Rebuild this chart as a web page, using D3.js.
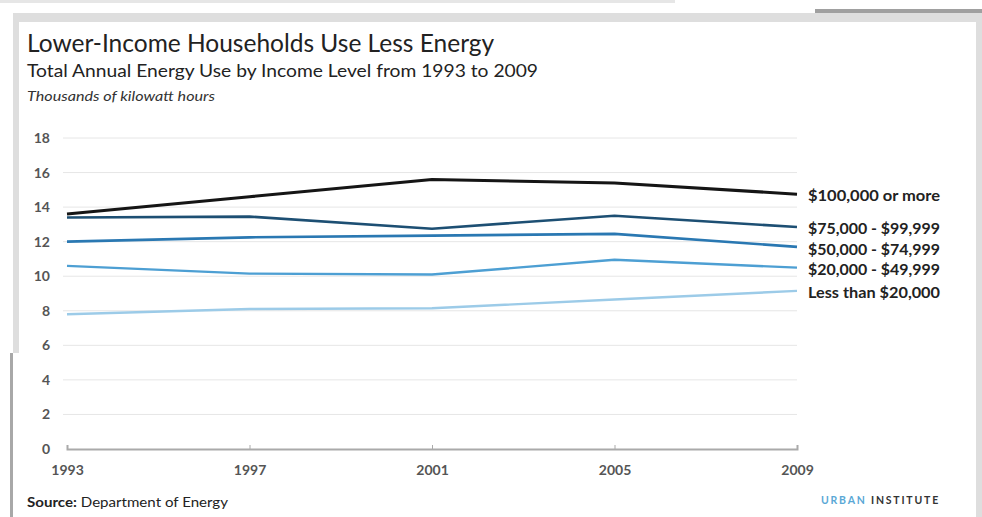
<!DOCTYPE html>
<html>
<head>
<meta charset="utf-8">
<script src="https://cdn.jsdelivr.net/npm/d3@7"></script>
<style>
  body { margin: 0; background: #fff; }
  svg { display: block; font-family: Lato, "Open Sans", sans-serif; }
</style>
</head>
<body>
<svg id="chart"></svg>
<script>
// Chart size
const width = 982;
const height = 517;

// Data
const years = [1993, 1997, 2001, 2005, 2009];
const groups = ["$100,000 or more", "$75,000 - $99,999", "$50,000 - $74,999", "$20,000 - $49,999", "Less than $20,000"];
const over100k = [13.6, 14.6, 15.6, 15.4, 14.75];
const from75k = [13.4, 13.45, 12.75, 13.5, 12.85];
const from50k = [12.0, 12.25, 12.35, 12.45, 11.7];
const from20k = [10.6, 10.15, 10.1, 10.95, 10.5];
const under20k = [7.8, 8.1, 8.15, 8.65, 9.15];
const yTicks = [0, 2, 4, 6, 8, 10, 12, 14, 16, 18];

const seriesValues = [over100k, from75k, from50k, from20k, under20k];
const COLORS = ["#151515", "#1d4f73", "#2a78b2", "#4d9fd3", "#9ccbe8"];
const WIDTHS = [3, 2.6, 2.6, 2.4, 2.4];
const labelY = [195, 228, 249, 269, 292];

const svg = d3.select("#chart")
  .attr("width", width)
  .attr("height", height);

// Gray frame around the card
svg.append("rect").attr("x", 0).attr("y", 0).attr("width", 675).attr("height", 3).attr("fill", "#e6e6e6");
svg.append("rect").attr("x", 13).attr("y", 13).attr("width", width - 13).attr("height", height - 13).attr("fill", "#dedede");
svg.append("rect").attr("x", 815).attr("y", 9).attr("width", 167).attr("height", 4).attr("fill", "#a0a0a0");
svg.append("rect").attr("x", 19).attr("y", 22).attr("width", 957).attr("height", height - 22).attr("fill", "#fff");
svg.append("rect").attr("x", 13).attr("y", 353).attr("width", 6).attr("height", height - 353).attr("fill", "#fff");
svg.append("rect").attr("x", 10).attr("y", 353).attr("width", 3).attr("height", height - 353).attr("fill", "#a8a8a8");

// Titles
svg.append("text").attr("x", 27).attr("y", 52)
  .attr("font-size", 24.5).attr("fill", "#222")
  .text("Lower-Income Households Use Less Energy");
svg.append("text").attr("x", 27).attr("y", 77)
  .attr("font-size", 18).attr("fill", "#222")
  .attr("textLength", 511).attr("lengthAdjust", "spacingAndGlyphs")
  .text("Total Annual Energy Use by Income Level from 1993 to 2009");
svg.append("text").attr("x", 27).attr("y", 101)
  .attr("font-size", 12.5).attr("font-style", "italic").attr("fill", "#333")
  .attr("textLength", 188).attr("lengthAdjust", "spacingAndGlyphs")
  .text("Thousands of kilowatt hours");

// Scales
const x = d3.scaleLinear().domain([1993, 2009]).range([67, 797]);
const y = d3.scaleLinear().domain([0, 18]).range([449, 138]);

// Gridlines
svg.append("g")
  .selectAll("line")
  .data(yTicks.filter(d => d > 0))
  .enter()
  .append("line")
  .attr("x1", 63).attr("x2", 797)
  .attr("y1", d => y(d)).attr("y2", d => y(d))
  .attr("stroke", "#e6e6e6").attr("stroke-width", 1);

// Y axis labels
svg.append("g")
  .selectAll("text")
  .data(yTicks)
  .enter()
  .append("text")
  .attr("x", 50).attr("y", d => y(d) + 5)
  .attr("text-anchor", "end")
  .attr("font-size", 14).attr("font-weight", "bold").attr("fill", "#555")
  .text(d => d);

// X axis
const xAxis = svg.append("g")
  .attr("transform", `translate(0,${y(0)})`)
  .call(d3.axisBottom(x).tickValues(years).tickFormat(d3.format("d")).tickSize(-4).tickPadding(16));
xAxis.select(".domain").attr("stroke", "#aaa").attr("stroke-width", 2);
xAxis.selectAll(".tick line").attr("stroke", "#aaa");
xAxis.selectAll(".tick text")
  .attr("font-family", "Lato, sans-serif")
  .attr("font-size", 14).attr("font-weight", "bold").attr("fill", "#555");

// Lines
const line = d3.line()
  .x((d, i) => x(years[i]))
  .y(d => y(d));

svg.append("g")
  .selectAll("path")
  .data(seriesValues)
  .enter()
  .append("path")
  .attr("d", line)
  .attr("fill", "none")
  .attr("stroke", (d, i) => COLORS[i])
  .attr("stroke-width", (d, i) => WIDTHS[i])
  .attr("stroke-linejoin", "round");

// Series labels
svg.append("g")
  .selectAll("text")
  .data(groups)
  .enter()
  .append("text")
  .attr("x", 808).attr("y", (d, i) => labelY[i] + 5.5)
  .attr("font-size", 15).attr("font-weight", "bold").attr("fill", "#222")
  .attr("textLength", 132).attr("lengthAdjust", "spacingAndGlyphs")
  .text(d => d);

// Footer
const src = svg.append("text").attr("x", 27).attr("y", 507).attr("font-size", 14).attr("fill", "#222")
  .attr("textLength", 201).attr("lengthAdjust", "spacingAndGlyphs");
src.append("tspan").attr("font-weight", "bold").text("Source:");
src.append("tspan").text(" Department of Energy");

const ui = svg.append("text").attr("x", 940).attr("y", 504)
  .attr("text-anchor", "end").attr("font-size", 10.5).attr("font-weight", "bold")
  .attr("letter-spacing", 1.8);
ui.append("tspan").attr("fill", "#5aa8d6").text("URBAN ");
ui.append("tspan").attr("fill", "#333").text("INSTITUTE");
</script>
</body>
</html>
